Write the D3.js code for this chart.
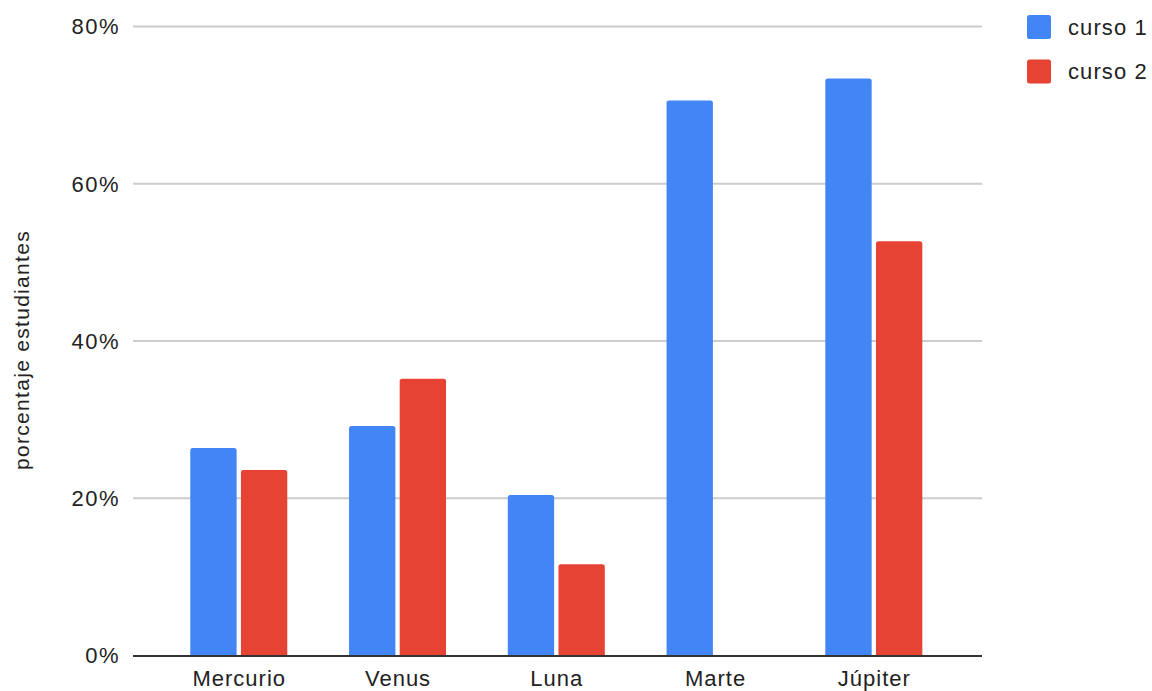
<!DOCTYPE html>
<html>
<head>
<meta charset="utf-8">
<script src="https://cdn.jsdelivr.net/npm/d3@7"></script>
<style>
  html, body { margin: 0; padding: 0; background: #fff; }
  svg { display: block; font-family: "Liberation Sans", Arial, sans-serif; }
</style>
</head>
<body>
<svg id="chart" width="1152" height="691"></svg>
<script>
// Planetas y porcentaje de estudiantes por curso
const categories = ["Mercurio", "Venus", "Luna", "Marte", "Júpiter"];
const seriesNames = ["curso 1", "curso 2"];
const curso1 = [26.4, 29.2, 20.4, 70.6, 73.4];
const curso2 = [23.6, 35.2, 11.6, 0, 52.7];
const yTicks = [0, 20, 40, 60, 80];
const colors = ["#4285F4", "#E64334"];

const seriesValues = [curso1, curso2];
const rows = categories.map((c, i) => ({
  cat: c,
  vals: seriesNames.map((s, j) => ({ key: s, idx: j, value: seriesValues[j][i] }))
}));

const svg = d3.select("#chart");
const plot = { left: 133, right: 982, top: 26.5, bottom: 655.5 };

const y = d3.scaleLinear().domain([0, 80]).range([plot.bottom, plot.top]);

const x0 = d3.scaleBand()
  .domain(categories)
  .range([159.4, 953.2])
  .paddingInner(0.389)
  .paddingOuter(0.1945);

const x1 = d3.scaleBand()
  .domain(seriesNames)
  .range([0, x0.bandwidth()])
  .paddingInner(0.085);

// Gridlines
svg.append("g")
  .selectAll("line")
  .data(yTicks.filter(t => t > 0))
  .join("line")
  .attr("x1", plot.left).attr("x2", plot.right)
  .attr("y1", d => y(d)).attr("y2", d => y(d))
  .attr("stroke", "#cccccc").attr("stroke-width", 2);

// Y tick labels
svg.append("g")
  .selectAll("text")
  .data(yTicks)
  .join("text")
  .attr("x", 120)
  .attr("y", d => y(d))
  .attr("dy", "0.36em")
  .attr("text-anchor", "end")
  .attr("font-size", 22)
  .attr("letter-spacing", 1.5)
  .attr("fill", "#222")
  .text(d => d + "%");

// Bars with slightly rounded tops
function barPath(x, yTop, w, yBase, r) {
  const h = yBase - yTop;
  if (h <= 0) return "";
  r = Math.min(r, h, w / 2);
  return `M${x},${yBase}V${yTop + r}Q${x},${yTop} ${x + r},${yTop}H${x + w - r}Q${x + w},${yTop} ${x + w},${yTop + r}V${yBase}Z`;
}

const groups = svg.append("g")
  .selectAll("g")
  .data(rows)
  .join("g")
  .attr("transform", d => `translate(${x0(d.cat)},0)`);

groups.selectAll("path")
  .data(d => d.vals)
  .join("path")
  .attr("d", d => barPath(x1(d.key), y(d.value), x1.bandwidth(), y(0), 2.5))
  .attr("fill", d => colors[d.idx]);

// Baseline
svg.append("line")
  .attr("x1", plot.left).attr("x2", plot.right)
  .attr("y1", y(0) + 0.5).attr("y2", y(0) + 0.5)
  .attr("stroke", "#333333").attr("stroke-width", 2);

// X labels
svg.append("g")
  .selectAll("text")
  .data(categories)
  .join("text")
  .attr("x", d => x0(d) + x0.bandwidth() / 2 + 0.5)
  .attr("y", 686)
  .attr("text-anchor", "middle")
  .attr("font-size", 22)
  .attr("letter-spacing", 1)
  .attr("fill", "#222")
  .text(d => d);

// Y axis title
svg.append("text")
  .attr("transform", `translate(29,350) rotate(-90)`)
  .attr("text-anchor", "middle")
  .attr("font-size", 21)
  .attr("letter-spacing", 1.3)
  .attr("fill", "#222")
  .text("porcentaje estudiantes");

// Legend
const legend = svg.append("g")
  .selectAll("g")
  .data(seriesNames)
  .join("g")
  .attr("transform", (d, i) => `translate(1027,${15 + i * 44.5})`);

legend.append("rect")
  .attr("width", 24).attr("height", 24)
  .attr("rx", 2.5)
  .attr("fill", (d, i) => colors[i]);

legend.append("text")
  .attr("x", 41)
  .attr("y", 12)
  .attr("dy", "0.36em")
  .attr("font-size", 22)
  .attr("letter-spacing", 1.1)
  .attr("fill", "#222")
  .text(d => d);
</script>
</body>
</html>
